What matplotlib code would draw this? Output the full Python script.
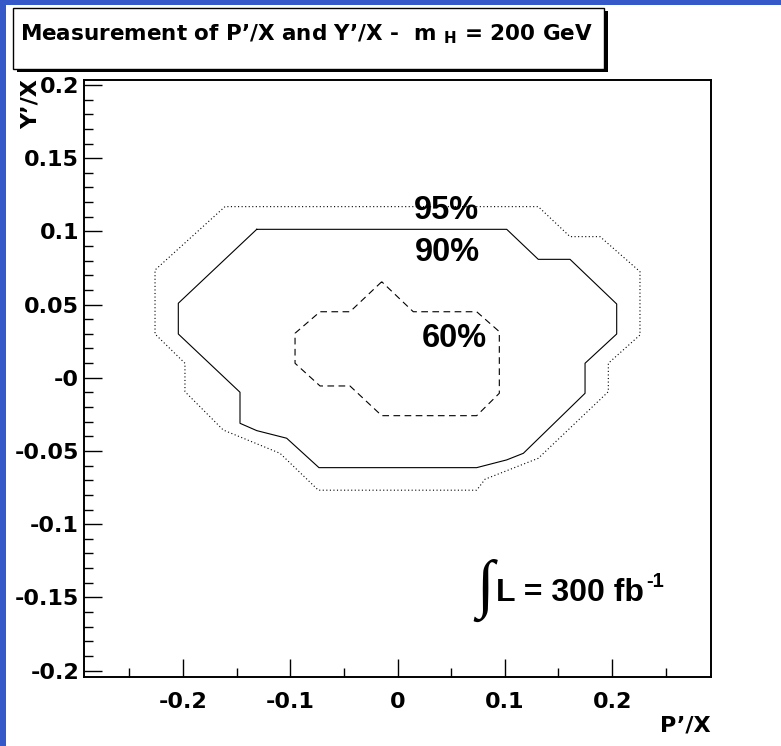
import matplotlib
matplotlib.use("Agg")
import matplotlib.pyplot as plt
from matplotlib.patches import Rectangle

plt.rcParams['font.family'] = ['DejaVu Sans']
plt.rcParams['font.weight'] = 'bold'
plt.rcParams['mathtext.fontset'] = 'custom'
plt.rcParams['mathtext.rm'] = 'DejaVu Sans:bold'
plt.rcParams['mathtext.it'] = 'DejaVu Sans:bold'
plt.rcParams['mathtext.bf'] = 'DejaVu Sans:bold'

BIG_FONT = ['Liberation Sans', 'DejaVu Sans']

# confidence-level contours in the (P'/X, Y'/X) plane
cl95_x = [-0.1608, -0.2260, -0.2260, -0.1981, -0.1981, -0.1624, -0.1095, -0.0738,
          0.0738, 0.0816, 0.1312, 0.1965, 0.1965, 0.2260, 0.2260, 0.1888, 0.1608,
          0.1312, -0.1608]
cl95_y = [0.1169, 0.0736, 0.0299, 0.0099, -0.0095, -0.0357, -0.0516, -0.0768,
          -0.0768, -0.0693, -0.0550, -0.0095, 0.0099, 0.0292, 0.0725, 0.0964, 0.0964,
          0.1169, 0.1169]

cl90_x = [-0.1312, -0.2043, -0.2043, -0.1468, -0.1468, -0.1312, -0.1033, -0.0732,
          0.0738, 0.1018, 0.1173, 0.1748, 0.1748, 0.2043, 0.2043, 0.1608, 0.1312,
          0.1018, -0.1312]
cl90_y = [0.1014, 0.0509, 0.0299, -0.0099, -0.0311, -0.0361, -0.0413, -0.0614,
          -0.0614, -0.0561, -0.0516, -0.0106, 0.0099, 0.0299, 0.0504, 0.0809, 0.0809,
          0.1014, 0.1014]

cl60_x = [-0.0147, -0.0443, -0.0722, -0.0955, -0.0955, -0.0722, -0.0443, -0.0147,
          0.0738, 0.0949, 0.0949, 0.0738, 0.0147, -0.0147]
cl60_y = [0.0656, 0.0451, 0.0451, 0.0304, 0.0099, -0.0056, -0.0056, -0.0259,
          -0.0259, -0.0106, 0.0315, 0.0451, 0.0451, 0.0656]

x_major = [-0.2, -0.1, 0.0, 0.1, 0.2]
x_labels = ["-0.2", "-0.1", "0", "0.1", "0.2"]
x_minor = [-0.25, -0.15, -0.05, 0.05, 0.15, 0.25]
y_major = [-0.2, -0.15, -0.1, -0.05, 0.0, 0.05, 0.1, 0.15, 0.2]
y_labels = ["-0.2", "-0.15", "-0.1", "-0.05", "-0", "0.05", "0.1", "0.15", "0.2"]
y_minor = [v / 100 for v in range(-20, 21) if v % 5 != 0]

W, H = 781, 746
fig = plt.figure(figsize=(W / 100, H / 100), dpi=100)
fig.patch.set_facecolor('white')


def fx(px):
    return px / W


def fy(py):
    return 1 - py / H


# canvas border strips
blue = '#3559c6'
fig.patches.append(Rectangle((0, 0), fx(6), 1, transform=fig.transFigure,
                             facecolor=blue, edgecolor='none', zorder=0))
fig.patches.append(Rectangle((0, fy(5)), 1, 5 / H, transform=fig.transFigure,
                             facecolor=blue, edgecolor='none', zorder=0))

# title box with drop shadow
bx0, by0, bx1, by1 = 13.3, 8.3, 604.0, 69.3
fig.patches.append(Rectangle((fx(bx0 + 3.5), fy(by1 + 3)), (bx1 - bx0) / W, (by1 - by0) / H,
                             transform=fig.transFigure, facecolor='black',
                             edgecolor='none', zorder=1))
fig.patches.append(Rectangle((fx(bx0), fy(by1)), (bx1 - bx0) / W, (by1 - by0) / H,
                             transform=fig.transFigure, facecolor='white',
                             edgecolor='black', linewidth=1.0, zorder=2))
fig.text(fx(20.5), fy(40), "Measurement of P\u2019/X and Y\u2019/X -  m $_{\\rm H}$ = 200 GeV",
         fontsize=15.5, fontweight='bold', ha='left', va='baseline', zorder=3)

ax = fig.add_axes([fx(84), fy(676.7), (711 - 84) / W, (676.7 - 80) / H])
ax.set_xlim(-0.2922, 0.2922)
ax.set_ylim(-0.2042, 0.2034)

ax.plot(cl95_x, cl95_y, color='black', linewidth=0.8, linestyle=(0, (1, 2.2)))
ax.plot(cl90_x, cl90_y, color='black', linewidth=0.8, linestyle='-')
ax.plot(cl60_x, cl60_y, color='black', linewidth=0.8, linestyle=(0, (6, 4)))

ax.set_xticks(x_major)
ax.set_xticklabels(x_labels)
ax.set_xticks(x_minor, minor=True)
ax.set_yticks(y_major)
ax.set_yticklabels(y_labels)
ax.set_yticks(y_minor, minor=True)

ax.tick_params(axis='both', which='both', direction='in', top=False, right=False,
               color='black', width=1.0)
ax.tick_params(axis='both', which='major', length=13, labelsize=16)
ax.tick_params(axis='both', which='minor', length=6.5)
ax.tick_params(axis='x', which='major', pad=11.3)
ax.tick_params(axis='y', which='major', pad=3.6)
for lab in ax.get_xticklabels() + ax.get_yticklabels():
    lab.set_fontweight('bold')
for sp in ax.spines.values():
    sp.set_linewidth(1.4)

# axis titles
fig.text(fx(711), fy(715.5), "P\u2019/X", fontsize=16, fontweight='bold',
         ha='right', va='top')
fig.text(fx(30.5), fy(79.5), "Y\u2019/X", fontsize=16, fontweight='bold',
         rotation=90, ha='center', va='top')

# contour level labels
fig.text(fx(446), fy(219.3), "95%", fontsize=23.5, fontweight='bold', ha='center',
         va='baseline', family=BIG_FONT)
fig.text(fx(447.5), fy(260.7), "90%", fontsize=23.5, fontweight='bold', ha='center',
         va='baseline', family=BIG_FONT)
fig.text(fx(454), fy(346.7), "60%", fontsize=23.5, fontweight='bold', ha='center',
         va='baseline', family=BIG_FONT)

# integrated luminosity
fig.text(fx(494), fy(590), "\u222b", fontsize=46, fontweight='normal', ha='right',
         va='center', family=['Liberation Serif', 'DejaVu Serif'])
lumi = fig.text(fx(495.5), fy(600.7), "L = 300 fb", fontsize=23, fontweight='bold',
                ha='left', va='baseline', family=BIG_FONT)
fig.canvas.draw()
lx1 = lumi.get_window_extent().x1
fig.text((lx1 + 2.5) / W, fy(586.7), "-1", fontsize=14.5, fontweight='bold',
         ha='left', va='baseline', family=BIG_FONT)

fig.savefig("out.png", dpi=100, facecolor='white')
